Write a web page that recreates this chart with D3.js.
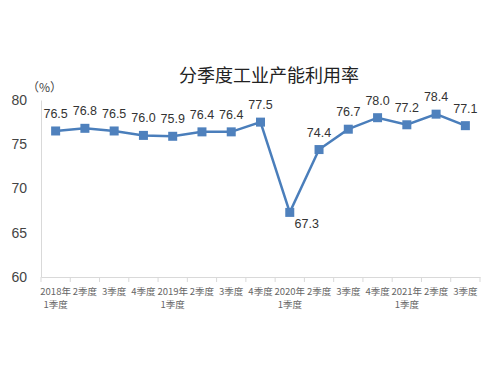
<!DOCTYPE html>
<html>
<head>
<meta charset="utf-8">
<script src="https://cdn.jsdelivr.net/npm/d3@7"></script>
<style>
  body { margin: 0; background: #fff; }
  svg { display: block; }
</style>
</head>
<body>
<div id="chart"></div>
<script>
const title = "分季度工业产能利用率";
const quarters = ["2018年\n1季度", "2季度", "3季度", "4季度", "2019年\n1季度", "2季度", "3季度", "4季度",
  "2020年\n1季度", "2季度", "3季度", "4季度", "2021年\n1季度", "2季度", "3季度"];
const rates = [76.5, 76.8, 76.5, 76.0, 75.9, 76.4, 76.4, 77.5, 67.3, 74.4, 76.7, 78.0, 77.2, 78.4, 77.1];
const yTicks = [60, 65, 70, 75, 80];

const width = 500, height = 375;
const marginLeft = 41, marginRight = 20, marginTop = 100, marginBottom = 98;

const svg = d3.select("#chart").append("svg")
  .attr("width", width)
  .attr("height", height)
  .attr("viewBox", [0, 0, width, height]);

const x = d3.scaleBand()
  .domain(quarters.map((d, i) => i))
  .range([marginLeft, width - marginRight]);

const y = d3.scaleLinear()
  .domain([60, 80])
  .range([height - marginBottom, marginTop]);

// title
svg.append("text")
  .attr("x", 269)
  .attr("y", 82)
  .attr("text-anchor", "middle")
  .attr("font-family", "'Noto Sans CJK SC', sans-serif")
  .attr("font-size", 18)
  .attr("fill", "#222")
  .text(title);

svg.append("text")
  .attr("x", 27)
  .attr("y", 92)
  .attr("font-family", "'Noto Sans CJK SC', sans-serif")
  .attr("font-size", 12)
  .attr("fill", "#444")
  .text("（%）");

// y axis
const yAxis = svg.append("g")
  .attr("transform", `translate(${marginLeft},0)`)
  .call(d3.axisLeft(y).tickValues(yTicks).tickSize(0).tickPadding(14));
yAxis.select(".domain").attr("stroke", "#d9d9d9");
yAxis.selectAll("text")
  .attr("font-family", "Arial, 'Liberation Sans', sans-serif")
  .attr("font-size", 14)
  .attr("fill", "#444");

// x axis
const xAxis = svg.append("g")
  .attr("transform", `translate(0,${height - marginBottom})`)
  .call(d3.axisBottom(x).tickSize(0).tickFormat(""));
xAxis.select(".domain").attr("stroke", "#d9d9d9");

// tick marks at band boundaries
svg.append("g")
  .attr("stroke", "#d9d9d9")
  .selectAll("line")
  .data(quarters.map((d, i) => i).concat([quarters.length]))
  .join("line")
    .attr("x1", i => i < quarters.length ? x(i) : x.range()[1])
    .attr("x2", i => i < quarters.length ? x(i) : x.range()[1])
    .attr("y1", height - marginBottom)
    .attr("y2", height - marginBottom + 5);

// x labels
const lbl = svg.append("g")
  .attr("font-family", "'Noto Sans CJK SC', sans-serif")
  .attr("font-size", 9.5)
  .attr("fill", "#666")
  .attr("text-anchor", "middle")
  .selectAll("text")
  .data(quarters)
  .join("text")
    .attr("x", (d, i) => x(i) + x.bandwidth() / 2)
    .attr("y", height - marginBottom + 18);
lbl.selectAll("tspan")
  .data(d => d.split("\n"))
  .join("tspan")
    .attr("x", function() { return d3.select(this.parentNode).attr("x"); })
    .attr("dy", (d, i) => i === 0 ? 0 : 13)
    .text(d => d);

// line
const line = d3.line()
  .x((d, i) => x(i) + x.bandwidth() / 2)
  .y(d => y(d));

svg.append("path")
  .datum(rates)
  .attr("fill", "none")
  .attr("stroke", "#4a7ebb")
  .attr("stroke-width", 2.5)
  .attr("d", line);

// markers
svg.append("g")
  .attr("fill", "#4f81bd")
  .selectAll("rect")
  .data(rates)
  .join("rect")
    .attr("x", (d, i) => x(i) + x.bandwidth() / 2 - 4.5)
    .attr("y", d => y(d) - 4.5)
    .attr("width", 9)
    .attr("height", 9);

// data labels
svg.append("g")
  .attr("font-family", "Arial, 'Liberation Sans', sans-serif")
  .attr("font-size", 12.5)
  .attr("fill", "#333")
  .attr("text-anchor", "middle")
  .selectAll("text")
  .data(rates)
  .join("text")
    .attr("x", (d, i) => x(i) + x.bandwidth() / 2)
    .attr("y", d => y(d) - 13)
    .text(d => d.toFixed(1))
  .filter(d => d < 70)
    .attr("x", (d, i) => x(8) + x.bandwidth() / 2 + 17)
    .attr("y", d => y(d) + 16);
</script>
</body>
</html>
